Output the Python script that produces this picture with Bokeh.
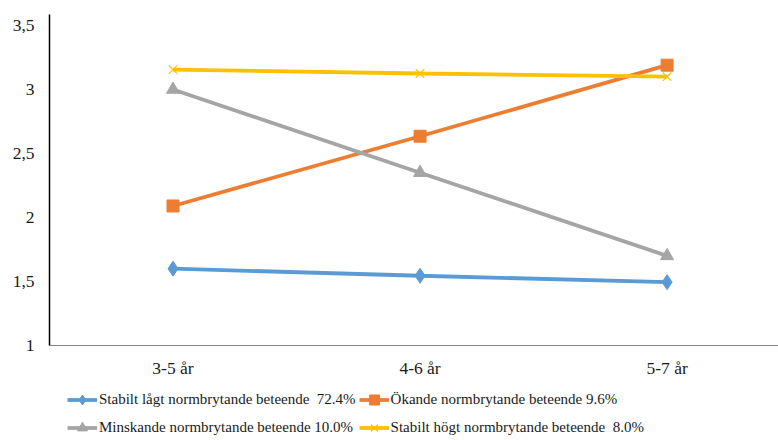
from bokeh.plotting import figure
from bokeh.models import Range1d, FixedTicker, Legend, LegendItem
from bokeh.layouts import column
from bokeh.embed import file_html
from bokeh.resources import INLINE

categories = ["3-5 år", "4-6 år", "5-7 år"]
stabilt_lagt = [1.60, 1.545, 1.495]
okande = [2.09, 2.635, 3.19]
minskande = [3.0, 2.35, 1.70]
stabilt_hogt = [3.155, 3.125, 3.10]
y_ticks = [1, 1.5, 2, 2.5, 3, 3.5]
y_tick_labels = ["1", "1,5", "2", "2,5", "3", "3,5"]

series = [
    ("Stabilt lågt normbrytande beteende  72.4%", stabilt_lagt, "#5B9BD5", "diamond", 15),
    ("Ökande normbrytande beteende 9.6%", okande, "#ED7D31", "square", 12),
    ("Minskande normbrytande beteende 10.0%", minskande, "#A5A5A5", "triangle", 13),
    ("Stabilt högt normbrytande beteende  8.0%", stabilt_hogt, "#FFC000", "x", 12),
]

FONT = "Liberation Serif"
xs = [i + 0.5 for i in range(len(categories))]


def draw(fig):
    items = []
    for label, vals, color, marker, size in series:
        r1 = fig.line(xs, vals, line_color=color, line_width=3.8)
        if marker == "x":
            r2 = fig.scatter(xs, vals, marker=marker, size=size, line_color=color, line_width=1.2)
        else:
            r2 = fig.scatter(xs, vals, marker=marker, size=size, fill_color=color, line_color=color)
        items.append(LegendItem(label=label, renderers=[r1, r2]))
    return items


# main chart
p = figure(width=778, height=380, output_backend="svg", toolbar_location=None,
           x_range=Range1d(0, 2.951), y_range=Range1d(1, 3.586),
           min_border_left=49, min_border_right=0, min_border_top=14, min_border_bottom=34)
p.outline_line_color = None
p.xgrid.visible = False
p.ygrid.visible = False
draw(p)

p.xaxis.ticker = FixedTicker(ticks=xs)
p.xaxis.major_label_overrides = {x: c for x, c in zip(xs, categories)}
p.xaxis.axis_line_color = "#868686"
p.xaxis.axis_line_width = 1.2
p.xaxis.major_label_standoff = 12

p.yaxis.ticker = FixedTicker(ticks=y_ticks)
p.yaxis.major_label_overrides = {t: l for t, l in zip(y_ticks, y_tick_labels)}
p.yaxis.axis_line_color = "black"
p.yaxis.axis_line_width = 1.5
p.yaxis.major_label_standoff = 15

for ax in (p.xaxis, p.yaxis):
    ax.major_tick_line_color = None
    ax.minor_tick_line_color = None
    ax.major_tick_out = 0
    ax.major_tick_in = 0
    ax.minor_tick_out = 0
    ax.minor_tick_in = 0
    ax.major_label_text_font = FONT
    ax.major_label_text_font_size = "17.5px"
    ax.major_label_text_color = "#1a1a1a"

# legend strip (same series, drawn off-range so only the legend shows)
p2 = figure(width=778, height=60, output_backend="svg", toolbar_location=None,
            x_range=Range1d(100, 101), y_range=Range1d(100, 101),
            x_axis_location=None, y_axis_location=None,
            min_border_left=0, min_border_right=0, min_border_top=0, min_border_bottom=0)
p2.outline_line_color = None
p2.xgrid.visible = False
p2.ygrid.visible = False
items = draw(p2)

legend = Legend(items=items, location=(18, 0), orientation="horizontal", ncols=2,
                padding=0, margin=0, spacing=3, glyph_width=30, glyph_height=25,
                label_standoff=2, label_height=25,
                label_text_font=FONT, label_text_font_size="15px", label_text_color="#1a1a1a",
                border_line_color=None, background_fill_alpha=0)
p2.add_layout(legend, "center")

layout = column(p, p2, spacing=0)
open("out.html", "w").write(file_html(layout, INLINE))
